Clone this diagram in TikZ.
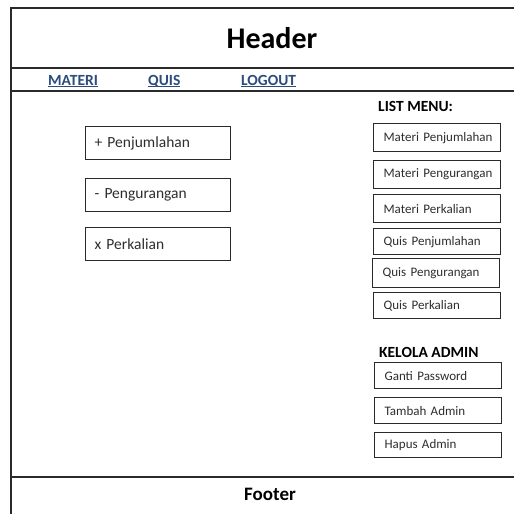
\documentclass[tikz,border=0pt]{standalone}
\usepackage{fontspec}
\setmainfont{Carlito}
\usepackage{xcolor}
\definecolor{frame}{HTML}{2A2A2A}
\definecolor{navblue}{HTML}{2B4C7E}
\definecolor{bodytxt}{HTML}{2E2E2E}
% underline at a fixed distance below the baseline, whatever the descenders
\newcommand\navul[1]{\underline{\smash{#1}}}
\begin{document}
\begin{tikzpicture}[x=1pt,y=-1pt,
  rule/.style={draw=frame,line width=1.4pt},
  menubox/.style={draw=frame,line width=1.2pt,minimum width=145pt,minimum height=33pt,
    text width=127pt,inner xsep=9pt,align=left,anchor=north west,font=\fontsize{15.5}{17}\selectfont,text=bodytxt},
  listbox/.style={draw=frame,line width=1.2pt,minimum width=127pt,minimum height=28pt,
    text width=119pt,inner xsep=4pt,align=left,anchor=north west,font=\fontsize{13}{14}\selectfont,text=bodytxt,
    execute at begin node={\hspace*{6pt}}},
  navlink/.style={anchor=base west,text=navblue,font=\bfseries\fontsize{15.5}{17}\selectfont,inner sep=0pt},
  heading/.style={anchor=west,text=black,font=\bfseries\fontsize{15.5}{17}\selectfont,inner sep=0pt}]
\useasboundingbox (0,0) rectangle (514,514);
\fill[white] (0,0) rectangle (514,514);

% page frame and section rules
\coordinate (tl) at (11,8);
\coordinate (tr) at (514,8);
\coordinate (bl) at (11,514);
\draw[rule] (tr) -- (tl) -- (bl);
\draw[rule] (11,68) -- (514,68);
\draw[rule] (11,91) -- (514,91);
\draw[rule] (11,477) -- (514,477);

% header and footer
\node (header) at (272,38) {\bfseries\fontsize{30}{34}\selectfont Header};
\node (footer) at (270,494) {\bfseries\fontsize{19}{22}\selectfont Footer};

% navigation
\node[navlink] (materi) at (48,85) {\navul{MATERI}};
\node[navlink] (quis) at (148,85) {\navul{QUIS}};
\node[navlink] (logout) at (241,85) {\navul{LOGOUT}};

% operation boxes
\node[menubox] (tambah) at (85,126) {+ Penjumlahan};
\node[menubox] (kurang) at (85,178) {- Pengurangan};
\node[menubox] (kali) at (85,227) {x Perkalian};

% list menu
\node[heading] (listmenu) at (378,106) {LIST MENU:};
\node[listbox] (m1) at (373,123) {Materi Penjumlahan};
\node[listbox] (m2) at (373,160) {Materi Pengurangan};
\node[listbox] (m3) at (373,194) {Materi Perkalian};
\node[listbox,minimum height=26pt] (q1) at (373,228) {Quis Penjumlahan};
\node[listbox,minimum height=29pt] (q2) at (372,258) {Quis Pengurangan};
\node[listbox,minimum height=26pt] (q3) at (373,292) {Quis Perkalian};

% admin menu
\node[heading] (admin) at (379,352) {KELOLA ADMIN};
\node[listbox,minimum height=26pt] (a1) at (374,362) {Ganti Password};
\node[listbox,minimum height=26pt] (a2) at (374,397) {Tambah Admin};
\node[listbox,minimum height=25pt] (a3) at (374,432) {Hapus Admin};
\end{tikzpicture}
\end{document}
